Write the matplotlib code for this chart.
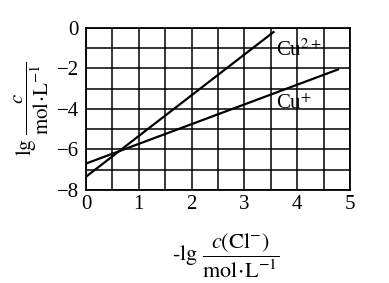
import numpy as np
import matplotlib
matplotlib.use("Agg")
import matplotlib.pyplot as plt

plt.rcParams['font.family'] = ['Liberation Serif', 'DejaVu Serif']
plt.rcParams['mathtext.fontset'] = 'stix'

# end points of the two lines
cu2_x = [0.0, 3.55]
cu2_y = [-7.35, -0.2]
cu1_x = [0.0, 4.77]
cu1_y = [-6.7, -2.05]

xticks = [0, 1, 2, 3, 4, 5]
yticks = [0, -2, -4, -6, -8]

fig = plt.figure(figsize=(3.89, 2.83), dpi=100)
ax = fig.add_axes([0.221, 0.329, 0.679, 0.572])

ax.plot(cu2_x, cu2_y, color='black', lw=1.6)
ax.plot(cu1_x, cu1_y, color='black', lw=1.6)

ax.text(3.6, -1.1, r'Cu$^{2+}$', fontsize=15, va='center', ha='left')
ax.text(3.6, -3.75, r'Cu$^{+}$', fontsize=15, va='center', ha='left')

ax.set_xlim(0, 5)
ax.set_ylim(-8, 0)
ax.set_xticks(xticks)
ax.set_yticks(yticks)
ax.set_xticklabels([str(t) for t in xticks], fontsize=15)
ax.set_yticklabels([str(t).replace('-', '\u2212') for t in yticks], fontsize=15)
ax.set_xticks(np.arange(0, 5.01, 0.5), minor=True)
ax.set_yticks(np.arange(-8, 0.01, 1), minor=True)
ax.grid(which='both', color='black', lw=1.1)
ax.tick_params(which='both', length=0)
ax.tick_params(axis='x', pad=4)
ax.tick_params(axis='y', pad=5)
for s in ax.spines.values():
    s.set_linewidth(1.3)

ax.set_ylabel(r'$\mathrm{lg}\ \dfrac{c}{\mathrm{mol\!\cdot\!L^{-1}}}$', fontsize=15, labelpad=4)
ax.set_xlabel(r'$\text{-}\mathrm{lg}\ \dfrac{c(\mathrm{Cl^{-}})}{\mathrm{mol\!\cdot\!L^{-1}}}$', fontsize=16, labelpad=7)
ax.xaxis.set_label_coords(0.53, -0.26)

fig.savefig('out.png', dpi=100)
